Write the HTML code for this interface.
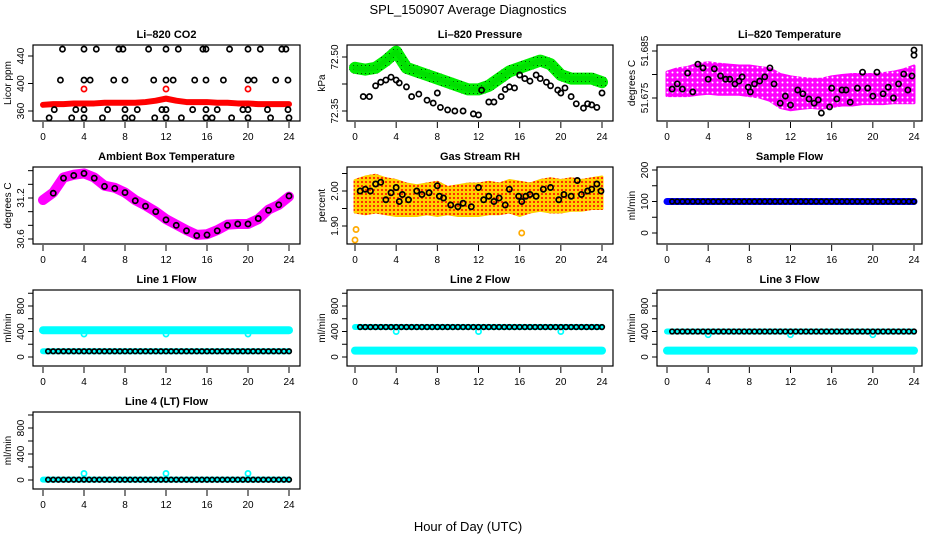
<!DOCTYPE html>
<html><head><meta charset="utf-8">
<style>
html,body{margin:0;padding:0;background:#fff;}
svg{display:block;font-family:"Liberation Sans",Arial,sans-serif;}
</style></head>
<body>
<svg id="chart" width="936" height="540" viewBox="0 0 936 540" xmlns="http://www.w3.org/2000/svg">
<defs>
<pattern id="magPat" width="5" height="5" patternUnits="userSpaceOnUse"><rect width="5" height="5" fill="#ff00ff"/><circle cx="2.5" cy="2.5" r="1" fill="#ffffff"/></pattern>
<pattern id="rhPat" width="4" height="4" patternUnits="userSpaceOnUse"><rect width="4" height="4" fill="#ffd000"/><rect x="1" y="1" width="2" height="2" fill="#ff3000"/></pattern>
<pattern id="grnPat" width="4" height="4" patternUnits="userSpaceOnUse"><rect width="4" height="4" fill="#00ee00"/><rect x="1" y="1" width="1" height="1" fill="#004400"/></pattern>
</defs>
<text x="468" y="14" text-anchor="middle" font-size="13">SPL_150907  Average Diagnostics</text>
<text x="468" y="531" text-anchor="middle" font-size="13">Hour of Day (UTC)</text>
</svg>
<script>
// ---------- data ----------
const hours = [0,1,2,3,4,5,6,7,8,9,10,11,12,13,14,15,16,17,18,19,20,21,22,23,24];
const xTicks = [0,4,8,12,16,20,24];
// CO2
const co2Red = [369,370,370,371,371,371,372,372,372,372,373,375,378,375,373,373,373,372,372,371,371,370,370,370,370];
const co2OutHr = [4,12,20];
const co2OutVal = [392,392,392];
const co2BlackHr = [1.9,4,5.2,7.4,7.8,10.3,12,13.2,15.6,15.9,18.2,20,21.2,23.3,23.7,
  1.7,4,4.6,6.9,8,10.8,12,12.7,14.8,15.9,17.6,20,20.6,22.7,23.9,
  1.1,3.2,4,6.3,8,9.2,11.6,12,14.6,15.9,17,19.5,20,21.9,23.9,
  0.6,2.8,4,5.8,8,8.7,10.9,12,13.5,15.9,16.5,18.4,20,22.2,24];
const co2BlackVal = [450,450,450,450,450,450,450,450,450,450,450,450,450,450,450,
  405,405,405,405,405,405,405,405,405,405,405,405,405,405,405,
  362,362,362,362,362,362,362,362,362,362,362,362,362,362,362,
  350,350,350,350,350,350,350,350,350,350,350,350,350,350,350];
// Pressure
const presGreen = [72.47,72.465,72.47,72.49,72.515,72.47,72.46,72.45,72.44,72.43,72.42,72.41,72.41,72.42,72.44,72.46,72.47,72.48,72.49,72.48,72.45,72.44,72.44,72.44,72.43];
const presBlackHr = [0.8,1.4,2,2.5,3,3.5,4,4.3,5,5.5,6.2,7,7.6,8,8.3,9,9.7,10.5,11.5,12,12.3,13,13.5,14.2,14.6,15,15.5,16,16.5,17,17.6,18,18.6,19,19.7,20,20.4,21,21.5,22.2,22.6,23,23.5,24];
const presBlackVal = [72.39,72.39,72.42,72.43,72.436,72.444,72.436,72.428,72.417,72.39,72.397,72.38,72.372,72.40,72.36,72.353,72.35,72.35,72.342,72.339,72.408,72.375,72.375,72.39,72.41,72.417,72.414,72.45,72.44,72.433,72.45,72.44,72.43,72.42,72.408,72.40,72.414,72.39,72.37,72.358,72.37,72.367,72.36,72.40];
// Li-820 temperature
const tempLo = [51.6755,51.6755,51.6755,51.6758,51.6760,51.6758,51.6758,51.6758,51.6755,51.6752,51.6745,51.6730,51.6725,51.6728,51.6730,51.6728,51.6732,51.6735,51.6735,51.6738,51.6738,51.6738,51.6740,51.6740,51.6740];
const tempHi = [51.6805,51.6812,51.6815,51.6822,51.6825,51.6822,51.6820,51.6818,51.6818,51.6815,51.6812,51.6800,51.6795,51.6792,51.6790,51.6790,51.6795,51.6798,51.6800,51.6800,51.6800,51.6802,51.6805,51.6810,51.6818];
const tempBlackHr = [0.5,1,1.5,2,2.5,3,3.5,4,4.6,5.2,5.7,6.1,6.6,7,7.3,7.9,8.1,8.5,9,9.5,10,10.4,11,11.5,12,12.7,13.2,13.8,14.3,14.7,15,15.8,16,16.5,17,17.4,17.8,18.5,19,19.5,20,20.4,21,21.5,22,22.5,23,23.4,23.8,24,24];
const tempBlackVal = [51.6769,51.6780,51.6769,51.6803,51.6763,51.6822,51.6814,51.6790,51.6812,51.6797,51.6790,51.6790,51.6780,51.6786,51.6795,51.6773,51.6763,51.6780,51.6786,51.6795,51.6814,51.6780,51.6739,51.6754,51.6735,51.6767,51.6759,51.6748,51.6739,51.6746,51.6718,51.6731,51.6771,51.6748,51.6767,51.6767,51.6741,51.6771,51.6805,51.6771,51.6754,51.6805,51.6759,51.6773,51.6750,51.6780,51.6801,51.6767,51.6797,51.6841,51.6852];
// Ambient box temperature
const ambMag = [31.17,31.28,31.5,31.54,31.56,31.5,31.38,31.35,31.28,31.17,31.09,31.0,30.89,30.81,30.73,30.66,30.67,30.73,30.81,30.82,30.82,30.89,31.03,31.1,31.22];
const ambBlack = [31.17,31.27,31.49,31.53,31.56,31.49,31.37,31.34,31.28,31.16,31.08,31.0,30.88,30.8,30.72,30.65,30.66,30.72,30.8,30.82,30.82,30.9,31.02,31.1,31.23];
// Gas stream RH
const rhLo = [1.940,1.935,1.940,1.935,1.930,1.930,1.930,1.935,1.930,1.935,1.930,1.930,1.930,1.935,1.935,1.940,1.930,1.940,1.945,1.940,1.940,1.945,1.945,1.950,1.950];
const rhHi = [2.030,2.040,2.045,2.035,2.030,2.020,2.015,2.020,2.025,2.010,2.015,2.020,2.020,2.025,2.020,2.030,2.025,2.020,2.030,2.035,2.030,2.035,2.030,2.035,2.040];
const rhBlackHr = [0.5,1,1.5,2,2.5,3,3.5,4,4.3,4.6,5.2,6,6.5,7.2,8,8.2,8.6,9.3,10,10.5,11.3,12,12.5,13,13.5,14,14.6,15,15.9,16.2,16.6,17,17.6,18.3,19,19.8,20.3,21,21.6,22,22.6,23,23.5,23.9];
const rhBlack = [2.00,2.005,2.00,2.02,2.025,1.975,1.995,2.01,1.97,1.99,1.975,2.0,1.99,1.995,2.015,1.985,1.98,1.96,1.955,1.965,1.955,2.01,1.975,1.985,1.97,1.98,1.96,2.005,1.985,1.97,1.985,1.99,1.985,2.005,2.01,1.975,1.99,1.985,2.03,1.99,2.00,2.005,2.02,2.00];
// Flows
const sampleFlow = [100,100,100,100,100,100,100,100,100,100,100,100,100,100,100,100,100,100,100,100,100,100,100,100,100];
const flowOutHr = [4,12,20];
const l1Cyan = 420, l1Black = 90, l1Out = 360;
const l2Black = 470, l2Cyan = 100, l2Out = 400;
const l3Black = 400, l3Cyan = 100, l3Out = 350;
const l4Black = 5, l4Out = 100;

// ---------- layout ----------
const NS = "http://www.w3.org/2000/svg";
const svg = document.getElementById('chart');
const cols = [{x0:43,x24:289,l:33,r:300},{x0:355,x24:602,l:347,r:613},{x0:667,x24:914,l:657,r:922}];
const rows = [{t:45,b:121},{t:167,b:244},{t:290,b:366},{t:412,b:489}];
let clipId = 0;

function el(tag, attrs, parent){
  const e = document.createElementNS(NS, tag);
  for (const k in attrs) e.setAttribute(k, attrs[k]);
  (parent||svg).appendChild(e);
  return e;
}

function makePanel(c, r, title, ylab, v1, y1, v2, y2, ticks, labels, labelText, name){
  const C = cols[c], R = rows[r];
  const g = el('g', {});
  
  
  const sx = h => C.x0 + (h/24)*(C.x24 - C.x0);
  const sy = v => y1 + (v - v1)*(y2 - y1)/(v2 - v1);
  const cid = 'clip' + (clipId++);
  const cp = el('clipPath', {id: cid}, g);
  el('rect', {x:C.l, y:R.t, width:C.r-C.l, height:R.b-R.t}, cp);
  const plot = el('g', {'clip-path':'url(#'+cid+')'}, g);
  
  
  const t = el('text', {x:(C.l+C.r)/2, y:R.t-7, 'text-anchor':'middle', 'font-size':'11', 'font-weight':'bold'}, g);
  t.textContent = title;
  
  
  const yl = el('text', {transform:'translate('+(C.l-22)+','+((R.t+R.b)/2)+') rotate(-90)', 'text-anchor':'middle', 'font-size':'10'}, g);
  yl.textContent = ylab;
  
  
  ticks.forEach(v => {
    const y = sy(v);
    el('line', {x1:C.l-5, x2:C.l, y1:y, y2:y, stroke:'#000', 'stroke-width':1}, g);
  });
  labels.forEach((v,i) => {
    const y = sy(v);
    const tl = el('text', {transform:'translate('+(C.l-9)+','+y+') rotate(-90)', 'text-anchor':'middle', 'font-size':'10'}, g);
    tl.textContent = labelText[i];
    
    
  });
  xTicks.forEach(h => {
    const x = sx(h);
    el('line', {x1:x, x2:x, y1:R.b+1, y2:R.b+7, stroke:'#000', 'stroke-width':1}, g);
    const tl = el('text', {x:x, y:R.b+19, 'text-anchor':'middle', 'font-size':'10'}, g);
    tl.textContent = String(h);
    
    
  });
  const box = () => {
    const b = el('rect', {x:C.l, y:R.t, width:C.r-C.l, height:R.b-R.t, fill:'none', stroke:'#000', 'stroke-width':1.2}, g);
    
    
  };
  return {g, plot, sx, sy, box};
}

function band(P, hrs, lo, hi, fill, name){
  let d = '';
  hrs.forEach((h,i) => { d += (i? 'L':'M') + P.sx(h) + ',' + P.sy(hi[i]); });
  for (let i = hrs.length-1; i >= 0; i--) d += 'L' + P.sx(hrs[i]) + ',' + P.sy(lo[i]);
  const p = el('path', {d: d+'Z', fill: fill, stroke: fill, 'stroke-width':3, 'stroke-linejoin':'round'}, P.plot);
  
  
}
function thickLine(P, hrs, vals, color, w, name){
  const pts = hrs.map((h,i) => P.sx(h) + ',' + P.sy(vals[i])).join(' ');
  const p = el('polyline', {points: pts, fill:'none', stroke: color, 'stroke-width': w, 'stroke-linecap':'round', 'stroke-linejoin':'round'}, P.plot);
  
  
}
function dots(P, hrs, vals, color, name, r){
  hrs.forEach((h,i) => {
    const c = el('circle', {cx:P.sx(h), cy:P.sy(vals[i]), r:r||2.6, fill:'none', stroke:color, 'stroke-width':1.7}, P.plot);
    
    
  });
}
function constArr(v, n){ const a=[]; for(let i=0;i<n;i++) a.push(v); return a; }
const halfHrs = []; for (let i=1;i<=48;i++) halfHrs.push(i/2);

let P = makePanel(0,0,'Li\u2013820 CO2','Licor ppm',360,111,440,56,[360,400,440],[360,400,440],['360','400','440'],'co2');
thickLine(P, hours, co2Red, '#ff0000', 6, 'co2-red-series');
dots(P, co2OutHr, co2OutVal, '#ff0000', 'co2-red-outlier');
dots(P, co2BlackHr, co2BlackVal, '#000', 'co2-black-point');
P.box();

P = makePanel(1,0,'Li\u2013820 Pressure','kPa',72.35,111,72.50,57,[72.35,72.425,72.50],[72.35,72.50],['72.35','72.50'],'pressure');
thickLine(P, hours, presGreen, 'url(#grnPat)', 12, 'pressure-green-series');
thickLine(P, hours, presGreen, '#00e000', 5, 'pressure-green-core');
dots(P, [4], [72.56], '#00ff00', 'pressure-green-outlier');
dots(P, presBlackHr, presBlackVal, '#000', 'pressure-black-point');
P.box();

P = makePanel(2,0,'Li\u2013820 Temperature','degrees C',51.675,98,51.685,51,[51.675,51.680,51.685],[51.675,51.685],['51.675','51.685'],'li820-temp');
band(P, hours, tempLo, tempHi, 'url(#magPat)', 'temp-magenta-cloud');
dots(P, tempBlackHr, tempBlackVal, '#000', 'temp-black-point');
P.box();

P = makePanel(0,1,'Ambient Box Temperature','degrees C',30.6,239,31.2,198,[30.6,30.8,31.0,31.2,31.4,31.6],[30.6,31.2],['30.6','31.2'],'ambient-temp');
thickLine(P, hours, ambMag, '#ff00ff', 10, 'ambient-magenta-series');
dots(P, hours.slice(1), ambBlack.slice(1), '#000', 'ambient-black-point');
P.box();

P = makePanel(1,1,'Gas Stream RH','percent',1.90,226,2.00,191,[1.90,1.95,2.00,2.05],[1.90,2.00],['1.90','2.00'],'gas-rh');
band(P, hours, rhLo, rhHi, 'url(#rhPat)', 'rh-orange-cloud');
dots(P, [0,0.1,16.2], [1.86,1.89,1.88], '#ffaa00', 'rh-orange-outlier');
dots(P, rhBlackHr, rhBlack, '#000', 'rh-black-point');
P.box();

P = makePanel(2,1,'Sample Flow','ml/min',0,233,200,170,[0,50,100,150,200],[0,100,200],['0','100','200'],'sample-flow');
thickLine(P, hours, sampleFlow, '#0000ff', 7, 'sample-flow-blue-series');
dots(P, halfHrs, constArr(sampleFlow[0], 48), '#000', 'sample-flow-black-point', 2.3);
P.box();

const flowTicks = [0,200,400,600,800,1000];
const flowLabels = [0,400,800];
const flowLabelText = ['0','400','800'];
P = makePanel(0,2,'Line 1 Flow','ml/min',0,357,800,306,flowTicks,flowLabels,flowLabelText,'line1-flow');
thickLine(P, [0,24], [l1Cyan,l1Cyan], '#00ffff', 8, 'line1-cyan-series');
thickLine(P, [0,24], [l1Black,l1Black], '#00ffff', 6, 'line1-cyan-low');
dots(P, flowOutHr, constArr(l1Out,3), '#00ffff', 'line1-cyan-outlier');
dots(P, halfHrs, constArr(l1Black,48), '#000', 'line1-black-point', 2.3);
P.box();

P = makePanel(1,2,'Line 2 Flow','ml/min',0,357,800,306,flowTicks,flowLabels,flowLabelText,'line2-flow');
thickLine(P, [0,24], [l2Cyan,l2Cyan], '#00ffff', 8, 'line2-cyan-series');
thickLine(P, [0,24], [l2Black,l2Black], '#00ffff', 6, 'line2-cyan-high');
dots(P, flowOutHr, constArr(l2Out,3), '#00ffff', 'line2-cyan-outlier');
dots(P, halfHrs, constArr(l2Black,48), '#000', 'line2-black-point', 2.3);
P.box();

P = makePanel(2,2,'Line 3 Flow','ml/min',0,357,800,306,flowTicks,flowLabels,flowLabelText,'line3-flow');
thickLine(P, [0,24], [l3Cyan,l3Cyan], '#00ffff', 8, 'line3-cyan-series');
thickLine(P, [0,24], [l3Black,l3Black], '#00ffff', 6, 'line3-cyan-high');
dots(P, flowOutHr, constArr(l3Out,3), '#00ffff', 'line3-cyan-outlier');
dots(P, halfHrs, constArr(l3Black,48), '#000', 'line3-black-point', 2.3);
P.box();

P = makePanel(0,3,'Line 4 (LT) Flow','ml/min',0,480,800,428,flowTicks,flowLabels,flowLabelText,'line4-flow');
thickLine(P, [0,24], [l4Black,l4Black], '#00ffff', 6, 'line4-cyan-series');
dots(P, flowOutHr, constArr(l4Out,3), '#00ffff', 'line4-cyan-outlier');
dots(P, halfHrs, constArr(l4Black,48), '#000', 'line4-black-point', 2.3);
P.box();
</script>
</body></html>
